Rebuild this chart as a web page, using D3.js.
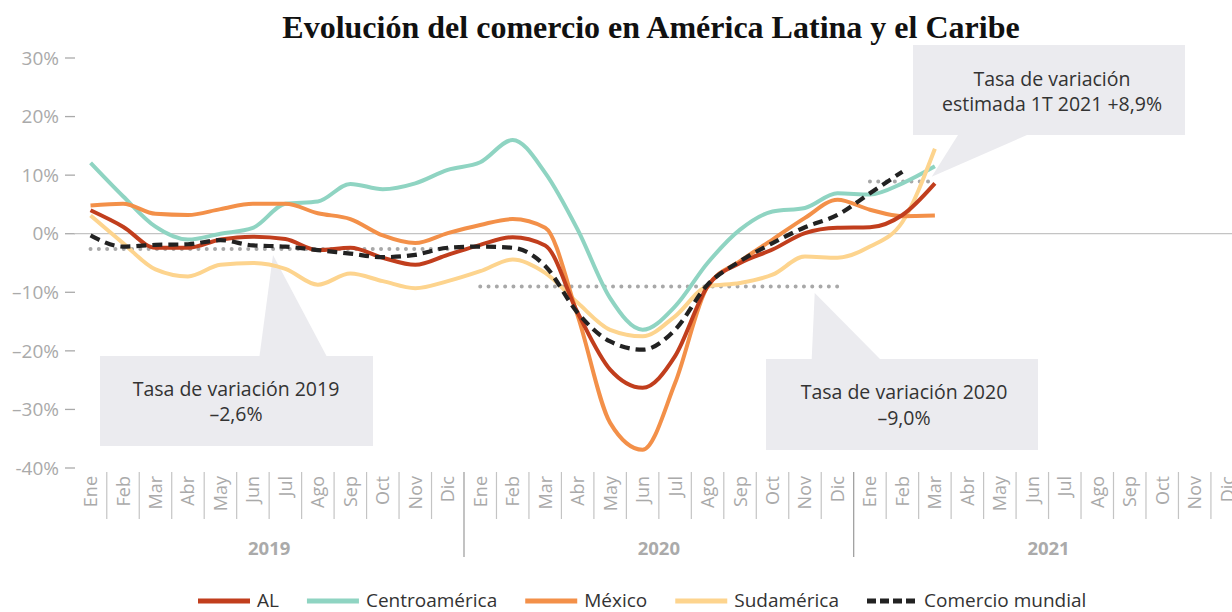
<!DOCTYPE html>
<html><head><meta charset="utf-8">
<script src="https://cdn.jsdelivr.net/npm/d3@7"></script>
<style>body{margin:0;background:#fff} svg{display:block}</style>
</head><body>
<svg id="c" width="1232" height="612"></svg>
<script>
// ---------- DATA ----------
const months = ["Ene","Feb","Mar","Abr","May","Jun","Jul","Ago","Sep","Oct","Nov","Dic"];
const years = ["2019","2020","2021"];
const yTicks = [30,20,10,0,-10,-20,-30,-40];
const yTickLabels = ["30%","20%","10%","0%","–10%","–20%","–30%","-40%"];
const seriesNames = ["AL","Centroamérica","México","Sudamérica","Comercio mundial"];
// Monthly year-on-year variation (%), Ene 2019 onward
const al      = [4.0, 1.2, -2.4, -2.4, -1.0, -0.5, -0.9, -2.8, -2.4, -4.1, -5.3, -3.6, -1.9, -0.6, -2.0, -13.5, -23.2, -26.3, -20.9, -9.0, -5.0, -2.7, 0.1, 1.0, 1.1, 3.2, 8.6];
const centro  = [12.1, 6.4, 1.2, -1.0, 0.0, 1.0, 5.1, 5.5, 8.5, 7.6, 8.6, 10.9, 12.2, 16.0, 10.4, 0.7, -11.0, -16.4, -12.4, -5.0, 0.7, 3.8, 4.4, 6.9, 6.7, 8.6, 11.5];
const mexico  = [4.8, 5.1, 3.4, 3.2, 4.2, 5.1, 5.1, 3.5, 2.5, -0.3, -1.6, 0.1, 1.5, 2.5, 1.0, -14.0, -32.3, -36.9, -25.5, -9.0, -4.7, -1.0, 2.7, 5.8, 4.1, 3.0, 3.1];
const sud     = [3.1, -1.6, -6.1, -7.3, -5.3, -5.0, -6.0, -8.7, -6.8, -8.1, -9.3, -8.1, -6.4, -4.4, -6.7, -11.8, -16.4, -17.5, -14.1, -9.0, -8.4, -7.0, -3.9, -4.1, -2.2, 2.0, 14.5];
const mundial = [-0.3, -2.2, -1.9, -1.8, -1.1, -2.0, -2.2, -2.8, -3.4, -4.0, -3.6, -2.4, -2.2, -2.4, -5.5, -13.5, -18.4, -19.8, -16.4, -8.7, -4.7, -1.6, 1.1, 3.2, 6.9, 10.6];
// Annual averages (dotted lines): value, first month index, last month index
const avgValues = [-2.6, -9.0, 8.9];
const avgStart  = [0, 12, 24];
const avgEnd    = [11, 23, 26];
const calloutLines = [
  ["Tasa de variación 2019", "–2,6%"],
  ["Tasa de variación 2020", "–9,0%"],
  ["Tasa de variación", "estimada 1T 2021 +8,9%"]
];
const title = "Evolución del comercio en América Latina y el Caribe";

// ---------- STYLE ----------
const colors = ["#c13e1d","#8fd4c2","#f39049","#fdd48e","#222222"];
const FONT = "'Open Sans', 'Noto Sans', sans-serif";
const GRAY = "#aaaaaa";

const svg = d3.select("#c");
const nMonths = months.length * years.length;
const x = d3.scaleLinear().domain([0, nMonths]).range([74.3, 74.3 + 32.475 * nMonths]);
const y = d3.scaleLinear().domain([-40, 30]).range([468, 58]);
const xc = i => x(i + 0.5);

// Title
const t = svg.append("text").attr("x", 651).attr("y", 38).attr("text-anchor", "middle")
  .attr("font-family", "'Liberation Serif', serif").attr("font-weight", "bold")
  .attr("font-size", 30).attr("fill", "#111").text(title);
const tw = t.node().getComputedTextLength();
t.attr("font-size", 30 * 738 / tw);

// Y axis labels
const yAxis = svg.append("g");
yTicks.forEach((v, k) => {
  yAxis.append("text").attr("x", 59).attr("y", y(v)).attr("dy", "0.35em")
    .attr("text-anchor", "end").attr("font-family", FONT).attr("font-size", 19)
    .attr("fill", GRAY).text(yTickLabels[k]);
  yAxis.append("line").attr("x1", 65).attr("x2", 75).attr("y1", y(v)).attr("y2", y(v))
    .attr("stroke", GRAY).attr("stroke-width", 1.3);
});

// Zero line
svg.append("line").attr("x1", x(0)).attr("x2", 1232).attr("y1", y(0)).attr("y2", y(0))
  .attr("stroke", "#c4c4c4").attr("stroke-width", 1.3);

// X axis: month labels & separators
const xAxis = svg.append("g");
for (let i = 0; i < nMonths; i++) {
  const m = months[i % 12];
  xAxis.append("text")
    .attr("transform", `translate(${xc(i) + 6.5},476) rotate(-90)`)
    .attr("text-anchor", "end").attr("font-family", FONT).attr("font-size", 18)
    .attr("fill", GRAY).text(m);
  if (i > 0) {
    const yearSep = i % 12 === 0;
    xAxis.append("line").attr("x1", x(i)).attr("x2", x(i))
      .attr("y1", 472).attr("y2", yearSep ? 557 : 519)
      .attr("stroke", yearSep ? "#9a9a9a" : "#c4c4c4").attr("stroke-width", 1.2);
  }
}
years.forEach((yr, k) => {
  xAxis.append("text").attr("x", x(k * 12 + 6)).attr("y", 555).attr("text-anchor", "middle")
    .attr("font-family", FONT).attr("font-weight", "bold").attr("font-size", 18.5)
    .attr("fill", GRAY).text(yr);
});

// Callouts (background shapes)
const callouts = [
  {box:[100,356,373,446], base:[259.5,326.5], apex:[273,255], tx:236, ty:[396,421]},
  {box:[766,359,1038,450], base:[811.7,880], apex:[814.7,293], tx:904, ty:[399,425]},
  {box:[913,45,1185,135], base:[958,1027], apex:[931.7,176.7], tx:1052, ty:[86,111], up:true}
];
const cg = svg.append("g");
callouts.forEach((c, k) => {
  const [x0,y0,x1,y1] = c.box;
  cg.append("rect").attr("x", x0).attr("y", y0).attr("width", x1-x0).attr("height", y1-y0)
    .attr("fill", "#ebebef");
  const by = c.up ? y1 : y0;
  cg.append("path").attr("d", `M${c.base[0]},${by}L${c.apex[0]},${c.apex[1]}L${c.base[1]},${by}Z`)
    .attr("fill", "#ebebef");
  calloutLines[k].forEach((s, j) => {
    cg.append("text").attr("x", c.tx).attr("y", c.ty[j]).attr("text-anchor", "middle")
      .attr("font-family", FONT).attr("font-size", 19.5).attr("fill", "#333").text(s);
  });
});

// Average dotted lines
avgValues.forEach((v, k) => {
  svg.append("line").attr("x1", xc(avgStart[k])).attr("x2", xc(avgEnd[k]))
    .attr("y1", y(v)).attr("y2", y(v))
    .attr("stroke", "#a8a8a8").attr("stroke-width", 4)
    .attr("stroke-linecap", "round").attr("stroke-dasharray", "0 8.3");
});

// Series lines
const line = d3.line().x((d, i) => xc(i)).y(d => y(d)).curve(d3.curveMonotoneX);
const data = [al, centro, mexico, sud, mundial];
const order = [1, 3, 2, 0, 4];
order.forEach(k => {
  svg.append("path").attr("d", line(data[k])).attr("fill", "none")
    .attr("stroke", colors[k]).attr("stroke-width", k === 4 ? 4.2 : 4)
    .attr("stroke-dasharray", k === 4 ? "10 6" : null)
    .attr("stroke-linejoin", "round");
});

// Legend
const lg = svg.append("g");
let lx = 198;
seriesNames.forEach((n, k) => {
  lg.append("line").attr("x1", lx).attr("x2", lx + (k === 4 ? 48 : 52)).attr("y1", 601).attr("y2", 601)
    .attr("stroke", colors[k]).attr("stroke-width", 5)
    .attr("stroke-dasharray", k === 4 ? "9 4" : null);
  const tt = lg.append("text").attr("x", lx + (k === 4 ? 57 : 59)).attr("y", 607)
    .attr("font-family", FONT).attr("font-size", 19).attr("fill", "#333").text(n);
  lx = lx + 59 + tt.node().getComputedTextLength() + 28;
});
</script>
</body></html>
